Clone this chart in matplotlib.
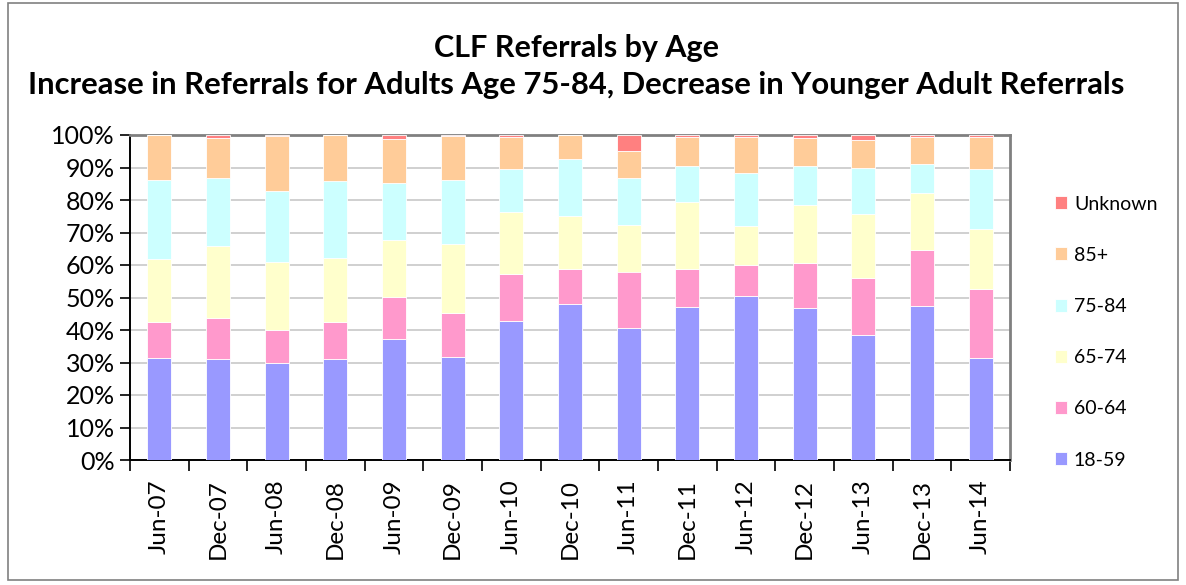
import matplotlib.pyplot as plt
import numpy as np
from matplotlib.patches import Rectangle

plt.rcParams['font.family'] = ['Lato', 'DejaVu Sans']

periods = ['Jun-07', 'Dec-07', 'Jun-08', 'Dec-08', 'Jun-09', 'Dec-09', 'Jun-10', 'Dec-10',
           'Jun-11', 'Dec-11', 'Jun-12', 'Dec-12', 'Jun-13', 'Dec-13', 'Jun-14']

# shares in percent
age_18_59 = [31.4, 31.0, 29.7, 31.2, 37.3, 31.7, 42.8, 48.1, 40.7, 47.2, 50.5, 46.9, 38.6, 47.5, 31.4]
age_60_64 = [11.1, 12.7, 10.4, 11.3, 13.0, 13.4, 14.3, 10.8, 17.3, 11.6, 9.6, 13.7, 17.3, 17.0, 21.3]
age_65_74 = [19.5, 22.2, 20.9, 19.7, 17.3, 21.3, 19.2, 16.3, 14.4, 20.6, 11.9, 18.0, 19.9, 17.7, 18.4]
age_75_84 = [24.3, 21.0, 21.8, 23.8, 17.5, 19.9, 13.2, 17.3, 14.3, 11.1, 16.2, 11.9, 13.9, 8.9, 18.3]
age_85_up = [13.7, 12.2, 16.8, 14.0, 13.7, 13.4, 9.9, 7.5, 8.4, 8.9, 11.2, 8.7, 8.7, 8.3, 10.0]
unknown = [0.0, 0.9, 0.4, 0.0, 1.2, 0.3, 0.6, 0.0, 4.9, 0.6, 0.6, 0.8, 1.6, 0.6, 0.6]

series = [('18-59', age_18_59, '#9999FF'),
          ('60-64', age_60_64, '#FF99CC'),
          ('65-74', age_65_74, '#FFFFCC'),
          ('75-84', age_75_84, '#CCFFFF'),
          ('85+', age_85_up, '#FFCC99'),
          ('Unknown', unknown, '#FF8080')]

fig = plt.figure(figsize=(11.86, 5.85), dpi=100)
ax = fig.add_axes([130 / 1186, 1 - 460 / 585, 880 / 1186, 325 / 585])

x = np.arange(len(periods))
bottom = np.zeros(len(periods))
handles = []
for name, vals, col in series:
    vals = np.array(vals)
    h = ax.bar(x, vals, 0.41, bottom=bottom, color=col, edgecolor='white', linewidth=0.6,
               label=name, zorder=3)
    handles.append(h)
    bottom += vals

ax.set_xlim(-0.5, len(periods) - 0.5)
ax.set_ylim(0, 100)
ax.set_yticks(np.arange(0, 101, 10))
ax.set_yticklabels([f'{v}%' for v in range(0, 101, 10)], fontsize=18)
ax.yaxis.grid(True, color='#C8C8C8', linewidth=1.2, zorder=0)
ax.tick_params(axis='y', direction='out', length=7, width=1.2, pad=4)

ax.set_xticks(np.arange(-0.5, len(periods), 1))
ax.set_xticklabels([])
ax.tick_params(axis='x', which='major', direction='out', length=8, width=1.2)
ax.set_xticks(x, minor=True)
ax.set_xticklabels(periods, minor=True, rotation=90, fontsize=17.5)
ax.tick_params(axis='x', which='minor', length=0, pad=14)

for s in ['left', 'bottom']:
    ax.spines[s].set_color('black')
    ax.spines[s].set_linewidth(1.4)
for s in ['top', 'right']:
    ax.spines[s].set_color('#808080')
    ax.spines[s].set_linewidth(2)

leg = fig.legend(handles[::-1], [s[0] for s in series][::-1], loc='upper left',
                 bbox_to_anchor=(1037 / 1186, 1 - 178 / 585), frameon=False,
                 fontsize=14, handlelength=0.65, handleheight=0.65, handletextpad=0.35,
                 labelspacing=1.76)

title_x = 576 / 1186
fig.text(title_x, 1 - 48 / 585, 'CLF Referrals by Age', ha='center', va='center',
         fontsize=22, fontweight='bold')
fig.text(title_x, 1 - 85 / 585,
         'Increase in Referrals for Adults Age 75-84, Decrease in Younger Adult Referrals',
         ha='center', va='center', fontsize=22.3, fontweight='bold')

fig.patches.append(Rectangle((8 / 1186, 5 / 585), 1170 / 1186, 577 / 585,
                             transform=fig.transFigure, fill=False,
                             edgecolor='#808080', linewidth=1.2))

fig.savefig('out.png', dpi=100)
